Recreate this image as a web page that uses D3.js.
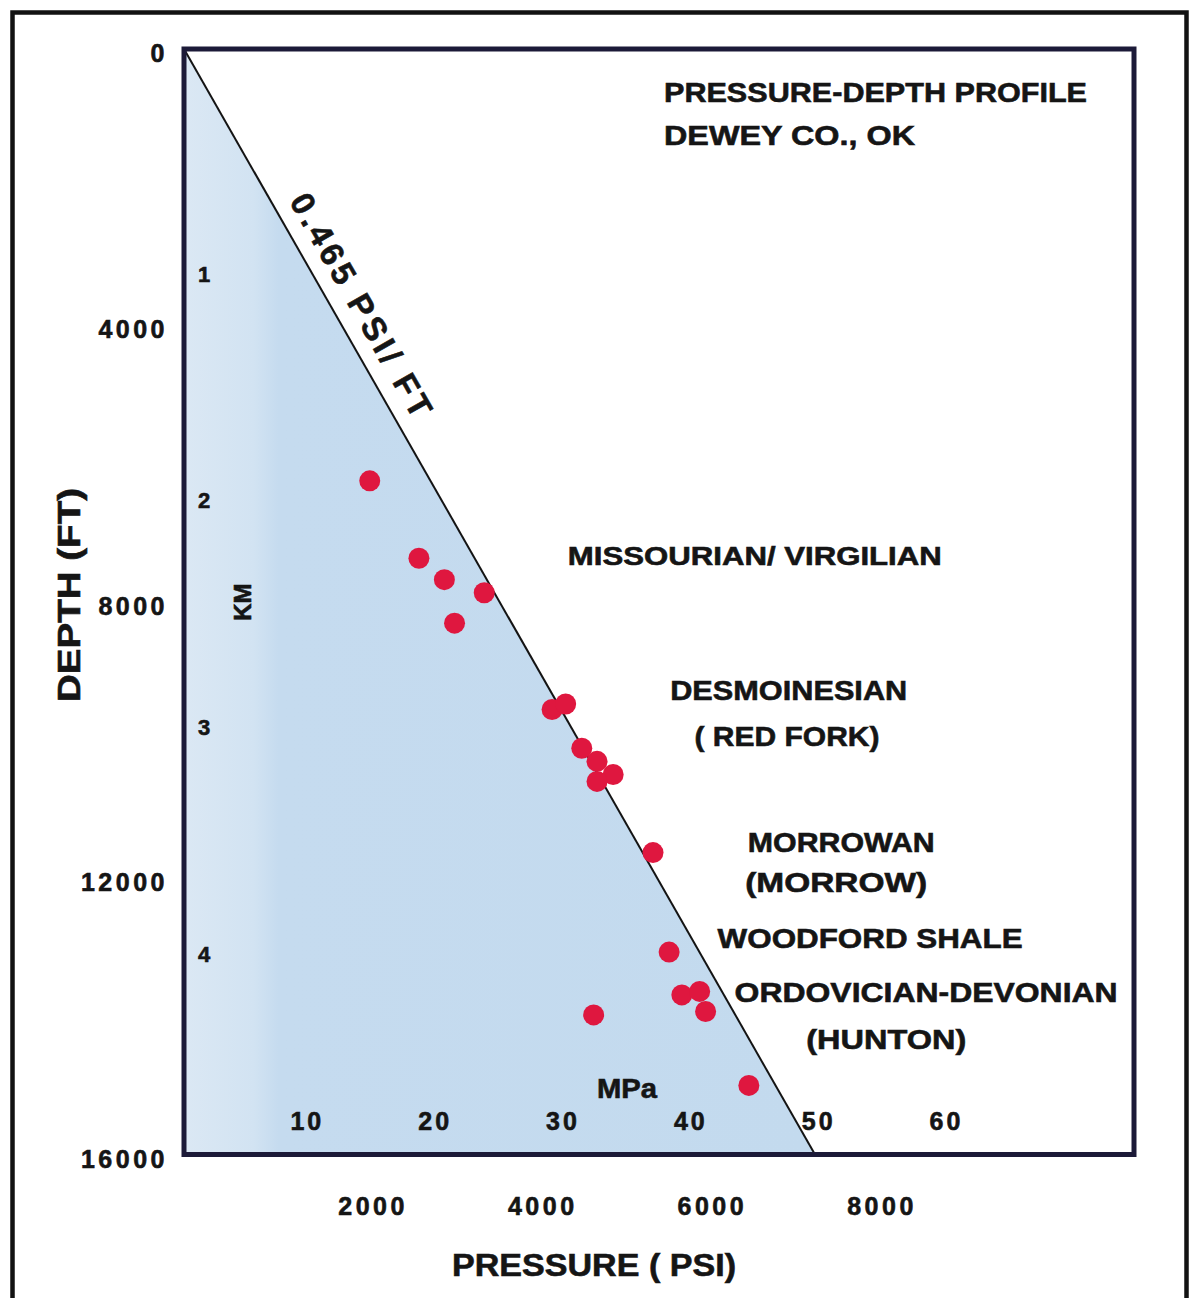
<!DOCTYPE html>
<html>
<head>
<meta charset="utf-8">
<script src="https://cdn.jsdelivr.net/npm/d3@7"></script>
<style>
  html, body { margin: 0; padding: 0; background: #ffffff; }
  svg { display: block; }
  text {
    font-family: "Liberation Sans", Arial, "Helvetica Neue", Helvetica, sans-serif;
    font-weight: bold;
    fill: #151515;
    stroke: #151515;
    stroke-width: 0.6px;
  }
</style>
</head>
<body>
<svg id="chart" width="1194" height="1298"></svg>
<script>
// Formation pressure measurements, Dewey County, Oklahoma
const pressurePsi = [2190, 2770, 3070, 3540, 3190, 4340, 4500, 4690, 4870, 5060, 4870, 5530, 5720, 5870, 6080, 6150, 4830, 6660];
const depthFt     = [6250, 7370, 7680, 7870, 8310, 9560, 9480, 10120, 10310, 10500, 10600, 11630, 13070, 13690, 13640, 13930, 13980, 15000];

// Axis ticks
const depthTicks = [0, 4000, 8000, 12000, 16000];
const psiTicks   = [2000, 4000, 6000, 8000];
const mpaTicks   = [10, 20, 30, 40, 50, 60];
const kmTicks    = [1, 2, 3, 4];

// Hydrostatic reference gradient
const gradientPsiPerFt = 0.465;
const maxDepthFt = 16000;
const ftPerKm = 3280.84;

// Text
const titleLines = ["PRESSURE-DEPTH PROFILE", "DEWEY CO., OK"];
const formationNames = ["MISSOURIAN/ VIRGILIAN", "DESMOINESIAN", "( RED FORK)", "MORROWAN", "(MORROW)",
                        "WOODFORD SHALE", "ORDOVICIAN-DEVONIAN", "(HUNTON)"];
const gradientLabel = "0.465 PSI/ FT";

// ---------------------------------------------------------------------------
// Layout
const W = 1194, H = 1298;
const plot = { left: 184, top: 49, right: 1134, bottom: 1154.5 };

const svg = d3.select("#chart");
svg.append("rect").attr("width", W).attr("height", H).attr("fill", "#ffffff");

// Scales: pressure across, depth downward
const x = d3.scaleLinear()
  .domain([0, gradientPsiPerFt * maxDepthFt])
  .range([plot.left, 815]);
const y = d3.scaleLinear()
  .domain([0, maxDepthFt])
  .range([plot.top, plot.bottom]);
const yKm = d3.scaleLinear()
  .domain([0, maxDepthFt / ftPerKm])
  .range(y.range());
const mpa = d3.scaleLinear()
  .domain([0, 60])
  .range([plot.left - 7, plot.left + 760]);

// Where formation names sit, in pressure / depth units
const formationAnchors = [
  { psi: 6730, ft: 7470,  len: 374, size: 26 },
  { psi: 7130, ft: 9420,  len: 237, size: 28 },
  { psi: 7110, ft: 10090, len: 185, size: 28 },
  { psi: 7750, ft: 11620, len: 187, size: 28 },
  { psi: 7690, ft: 12200, len: 182, size: 28 },
  { psi: 8090, ft: 13010, len: 305, size: 28 },
  { psi: 8750, ft: 13790, len: 383, size: 28 },
  { psi: 8280, ft: 14470, len: 160, size: 28 }
];

// ---------------------------------------------------------------------------
// Outer page frame
svg.append("rect")
  .attr("x", 12.5).attr("y", 12.5)
  .attr("width", 1174).attr("height", 1300)
  .attr("fill", "none")
  .attr("stroke", "#121212")
  .attr("stroke-width", 4.5);

// Shaded hydrostatic wedge
const defs = svg.append("defs");
const grad = defs.append("linearGradient")
  .attr("id", "wedgeFill")
  .attr("gradientUnits", "userSpaceOnUse")
  .attr("x1", x(0)).attr("x2", x(gradientPsiPerFt * maxDepthFt))
  .attr("y1", 0).attr("y2", 0);
grad.append("stop").attr("offset", "0%").attr("stop-color", "#dbe8f4");
grad.append("stop").attr("offset", "11%").attr("stop-color", "#d2e3f2");
grad.append("stop").attr("offset", "15%").attr("stop-color", "#c5dbef");
grad.append("stop").attr("offset", "100%").attr("stop-color", "#c3daee");

const wedge = [[0, 0], [gradientPsiPerFt * maxDepthFt, maxDepthFt], [0, maxDepthFt]];
svg.append("path")
  .attr("d", d3.line().x(d => x(d[0])).y(d => y(d[1]))(wedge) + "Z")
  .attr("fill", "url(#wedgeFill)");

// Hydrostatic gradient line
const hydro = [[0, 0], [gradientPsiPerFt * maxDepthFt, maxDepthFt]];
svg.append("path")
  .attr("d", d3.line().x(d => x(d[0])).y(d => y(d[1]))(hydro))
  .attr("fill", "none")
  .attr("stroke", "#141414")
  .attr("stroke-width", 2);

// Inner plot frame
svg.append("rect")
  .attr("x", plot.left).attr("y", plot.top)
  .attr("width", plot.right - plot.left).attr("height", plot.bottom - plot.top)
  .attr("fill", "none")
  .attr("stroke", "#1c1a38")
  .attr("stroke-width", 5);

// Measured pressures
svg.append("g")
  .selectAll("circle")
  .data(d3.range(pressurePsi.length))
  .join("circle")
  .attr("cx", i => x(pressurePsi[i]))
  .attr("cy", i => y(depthFt[i]))
  .attr("r", 10.5)
  .attr("fill", "#df173f");

// ---------------------------------------------------------------------------
// Axes (labels only)
function styleTicks(g, size, spacing) {
  g.select(".domain").remove();
  g.selectAll("line").remove();
  g.selectAll("text")
    .attr("fill", "#151515")
    .style("font-size", size + "px")
    .style("letter-spacing", spacing + "px");
}

// Depth (ft)
svg.append("g")
  .attr("transform", "translate(168,0)")
  .call(d3.axisLeft(y).tickValues(depthTicks).tickSize(0).tickPadding(0).tickFormat(d3.format("d")))
  .call(g => styleTicks(g, 25, 3.5))
  .call(g => g.selectAll("text").attr("dy", "0.5em").attr("font-family", null));

// Depth (km), inside the plot
svg.append("g")
  .attr("transform", "translate(204,0)")
  .call(d3.axisRight(yKm).tickValues(kmTicks).tickSize(0).tickPadding(0).tickFormat(d3.format("d")))
  .call(g => styleTicks(g, 22, 0))
  .call(g => g.selectAll("text").attr("text-anchor", "middle").attr("x", 0).attr("dy", "0.25em"));

// Pressure (psi)
svg.append("g")
  .attr("transform", "translate(19,1206)")
  .call(d3.axisBottom(x).tickValues(psiTicks).tickSize(0).tickPadding(0).tickFormat(d3.format("d")))
  .call(g => styleTicks(g, 25, 3.5))
  .call(g => g.selectAll("text").attr("y", 0).attr("dy", "0.36em"));

// Pressure (MPa), inside the plot
svg.append("g")
  .attr("transform", "translate(2,1121)")
  .call(d3.axisBottom(mpa).tickValues(mpaTicks).tickSize(0).tickPadding(0).tickFormat(d3.format("d")))
  .call(g => styleTicks(g, 25, 3))
  .call(g => g.selectAll("text").attr("y", 0).attr("dy", "0.36em"));

// ---------------------------------------------------------------------------
// Axis titles
svg.append("text")
  .attr("transform", "translate(80,595) rotate(-90)")
  .attr("text-anchor", "middle")
  .attr("textLength", 214)
  .attr("lengthAdjust", "spacingAndGlyphs")
  .style("font-size", "31px")
  .text("DEPTH (FT)");

svg.append("text")
  .attr("x", 594).attr("y", 1276)
  .attr("text-anchor", "middle")
  .attr("textLength", 284)
  .attr("lengthAdjust", "spacingAndGlyphs")
  .style("font-size", "32px")
  .text("PRESSURE ( PSI)");

svg.append("text")
  .attr("transform", `translate(251,${yKm(2.44)}) rotate(-90)`)
  .attr("text-anchor", "middle")
  .style("font-size", "24px")
  .text("KM");

svg.append("text")
  .attr("x", mpa(35.2)).attr("y", y(15180))
  .attr("text-anchor", "middle")
  .attr("textLength", 60)
  .attr("lengthAdjust", "spacingAndGlyphs")
  .style("font-size", "27px")
  .text("MPa");

// Title
const titleLens = [423, 251];
svg.append("g")
  .selectAll("text")
  .data(titleLines)
  .join("text")
  .attr("x", 664)
  .attr("y", (d, i) => 102 + i * 43)
  .attr("textLength", (d, i) => titleLens[i])
  .attr("lengthAdjust", "spacingAndGlyphs")
  .style("font-size", "28px")
  .text(d => d);

// Formation names
svg.append("g")
  .selectAll("text")
  .data(formationNames)
  .join("text")
  .attr("x", (d, i) => x(formationAnchors[i].psi))
  .attr("y", (d, i) => y(formationAnchors[i].ft))
  .attr("text-anchor", "middle")
  .attr("textLength", (d, i) => formationAnchors[i].len)
  .attr("lengthAdjust", "spacingAndGlyphs")
  .style("font-size", (d, i) => formationAnchors[i].size + "px")
  .text(d => d);

// Gradient label laid along the hydrostatic line
{
  const ft = 3900;
  const px = x(gradientPsiPerFt * ft), py = y(ft);
  const dx = x(gradientPsiPerFt * maxDepthFt) - x(0);
  const dy = y(maxDepthFt) - y(0);
  const ang = Math.atan2(dy, dx);
  const off = 27;
  const cx = px + off * Math.sin(ang);
  const cy = py - off * Math.cos(ang);
  svg.append("text")
    .attr("transform", `translate(${cx},${cy}) rotate(${ang * 180 / Math.PI})`)
    .attr("text-anchor", "middle")
    .attr("dominant-baseline", "central")
    .attr("textLength", 252)
    .attr("lengthAdjust", "spacing")
    .style("font-size", "33px")
    .text(gradientLabel);
}
</script>
</body>
</html>
